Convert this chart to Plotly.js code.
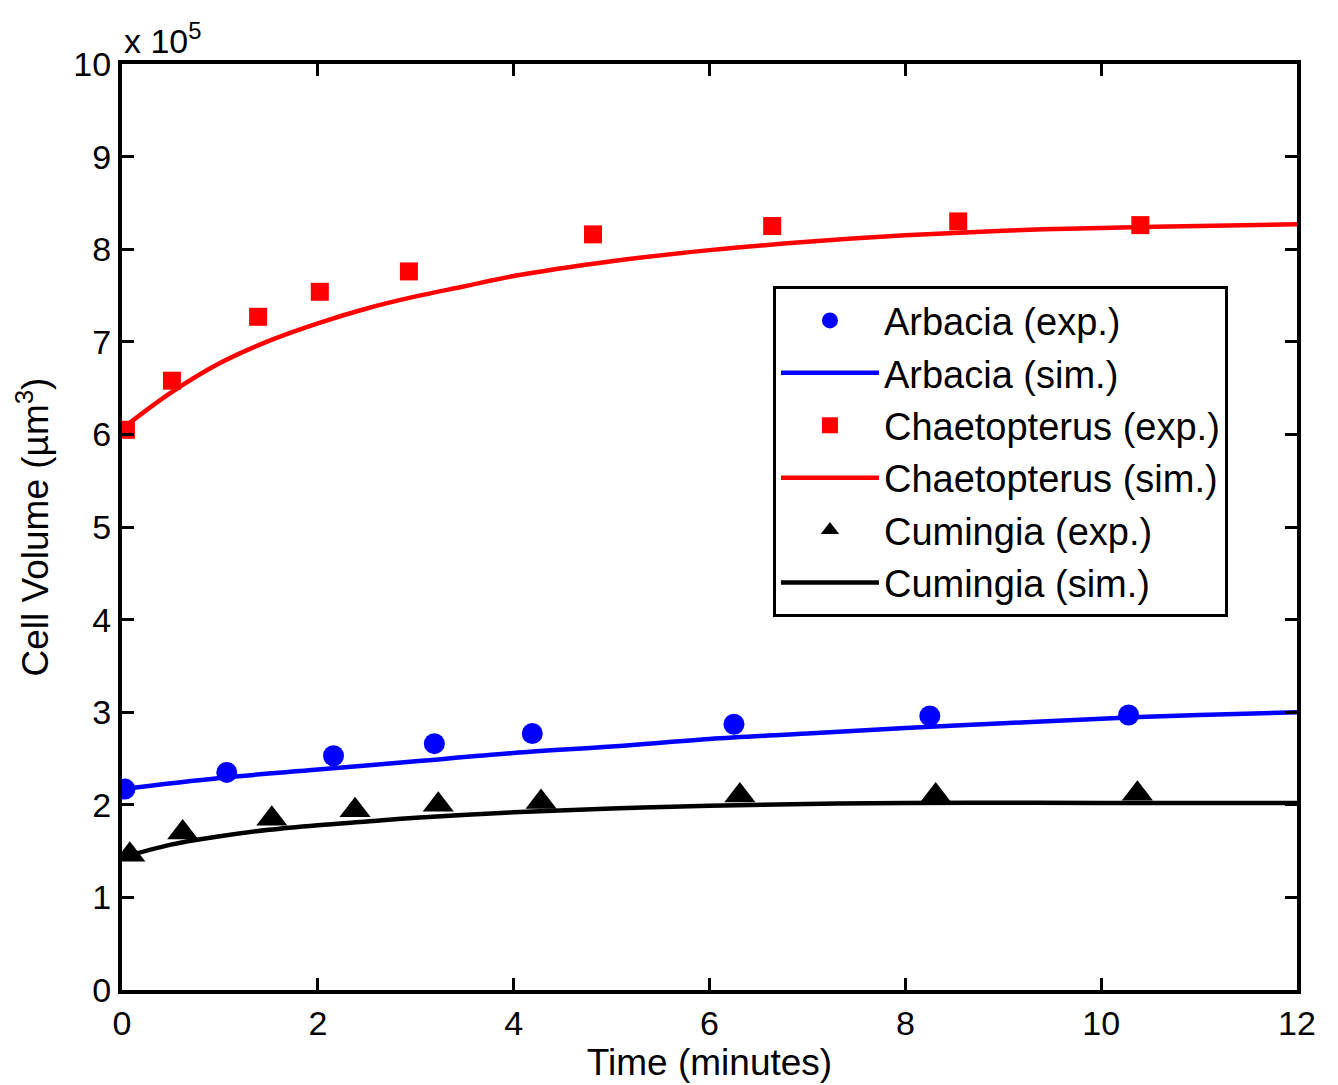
<!DOCTYPE html>
<html>
<head>
<meta charset="utf-8">
<script src="https://cdn.plot.ly/plotly-3.0.1.min.js"></script>
<style>html,body{margin:0;padding:0;background:#fff;}#chart{width:1338px;height:1085px;}</style>
</head>
<body>
<div id="chart"></div>
<script>
// Values in units of 10^5 µm^3, time in minutes
const arbaciaExpT = [0.03, 1.07, 2.16, 3.19, 4.19, 6.25, 8.25, 10.28];
const arbaciaExpV = [2.17, 2.35, 2.53, 2.66, 2.77, 2.87, 2.96, 2.97];
const arbaciaSimT = [0, 1, 2, 3, 4, 5, 6, 7, 8, 9, 10, 11, 12];
const arbaciaSimV = [2.17, 2.29, 2.38, 2.47, 2.56, 2.63, 2.71, 2.77, 2.83, 2.88, 2.93, 2.97, 3.00];

const chaetExpT = [0.04, 0.51, 1.39, 2.02, 2.93, 4.81, 6.64, 8.54, 10.40];
const chaetExpV = [6.05, 6.58, 7.27, 7.54, 7.76, 8.16, 8.25, 8.30, 8.26];
const chaetSimT = [0, 0.5, 1, 1.5, 2, 2.5, 3, 3.5, 4, 5, 6, 7, 8, 9, 10, 11, 12];
const chaetSimV = [6.06, 6.45, 6.77, 7.01, 7.20, 7.36, 7.49, 7.60, 7.71, 7.87, 7.99, 8.08, 8.15, 8.20, 8.23, 8.25, 8.27];

const cumingExpT = [0.08, 0.62, 1.53, 2.38, 3.23, 4.28, 6.31, 8.31, 10.37];
const cumingExpV = [1.46, 1.70, 1.85, 1.94, 2.00, 2.03, 2.10, 2.10, 2.12];
const cumingSimT = [0, 0.5, 1, 1.5, 2, 2.5, 3, 4, 5, 6, 8, 10, 12];
const cumingSimV = [1.43, 1.57, 1.66, 1.73, 1.78, 1.82, 1.86, 1.92, 1.96, 1.99, 2.02, 2.02, 2.02];

const xTicks = [0, 2, 4, 6, 8, 10, 12];
const yTicks = [0, 1, 2, 3, 4, 5, 6, 7, 8, 9, 10];
const seriesNames = ['Arbacia (exp.)', 'Arbacia (sim.)', 'Chaetopterus (exp.)', 'Chaetopterus (sim.)', 'Cumingia (exp.)', 'Cumingia (sim.)'];

const FONT = 'Liberation Sans, Arial, sans-serif';

const traces = [
  {x: arbaciaExpT, y: arbaciaExpV, name: seriesNames[0], mode: 'markers', type: 'scatter', legendgroup: 'a',
   marker: {symbol: 'circle', size: 21, color: '#0000ff'}},
  {x: arbaciaSimT, y: arbaciaSimV, name: seriesNames[1], mode: 'lines', type: 'scatter', legendgroup: 'b',
   line: {color: '#0000ff', width: 4.5, shape: 'spline'}},
  {x: chaetExpT, y: chaetExpV, name: seriesNames[2], mode: 'markers', type: 'scatter', legendgroup: 'c',
   marker: {symbol: 'square', size: 18, color: '#ff0000'}},
  {x: chaetSimT, y: chaetSimV, name: seriesNames[3], mode: 'lines', type: 'scatter', legendgroup: 'd',
   line: {color: '#ff0000', width: 4.5, shape: 'spline'}},
  {x: cumingExpT, y: cumingExpV, name: seriesNames[4], mode: 'markers', type: 'scatter', legendgroup: 'e',
   marker: {symbol: 'triangle-up', size: 27, color: '#000000'}},
  {x: cumingSimT, y: cumingSimV, name: seriesNames[5], mode: 'lines', type: 'scatter', legendgroup: 'f',
   line: {color: '#000000', width: 4.5, shape: 'spline'}}
];

const axisCommon = {
  showgrid: false, zeroline: false,
  showline: true, linecolor: '#000', linewidth: 4, mirror: 'ticks',
  ticks: 'inside', ticklen: 12, tickwidth: 3, tickcolor: '#000',
  tickfont: {family: FONT, size: 34, color: '#000'}
};

const layout = {
  width: 1338, height: 1085,
  margin: {l: 122, r: 41, t: 64, b: 95},
  paper_bgcolor: '#fff', plot_bgcolor: '#fff',
  font: {family: FONT, color: '#000'},
  xaxis: Object.assign({}, axisCommon, {
    range: [0, 12], tickvals: xTicks, ticktext: xTicks.map(String),
    title: {text: 'Time (minutes)', font: {family: FONT, size: 37, color: '#000'}, standoff: 0}
  }),
  yaxis: Object.assign({}, axisCommon, {
    range: [0, 10], tickvals: yTicks, ticktext: yTicks.map(String),
    title: {text: 'Cell Volume (µm<sup>3</sup>)', font: {family: FONT, size: 37, color: '#000'}, standoff: 14}
  }),
  legend: {
    x: 0.554, y: 0.76, xanchor: 'left', yanchor: 'top',
    bgcolor: '#fff', bordercolor: '#000', borderwidth: 3,
    font: {family: FONT, size: 38, color: '#000'},
    tracegroupgap: 0, itemsizing: 'trace', itemwidth: 98
  },
  annotations: [{
    xref: 'paper', yref: 'paper', x: 0, y: 1, xanchor: 'left', yanchor: 'bottom',
    text: 'x 10<sup>5</sup>', showarrow: false, yshift: 2,
    font: {family: FONT, size: 34, color: '#000'}
  }]
};

Plotly.newPlot('chart', traces, layout, {staticPlot: true, displayModeBar: false});
</script>
</body>
</html>
